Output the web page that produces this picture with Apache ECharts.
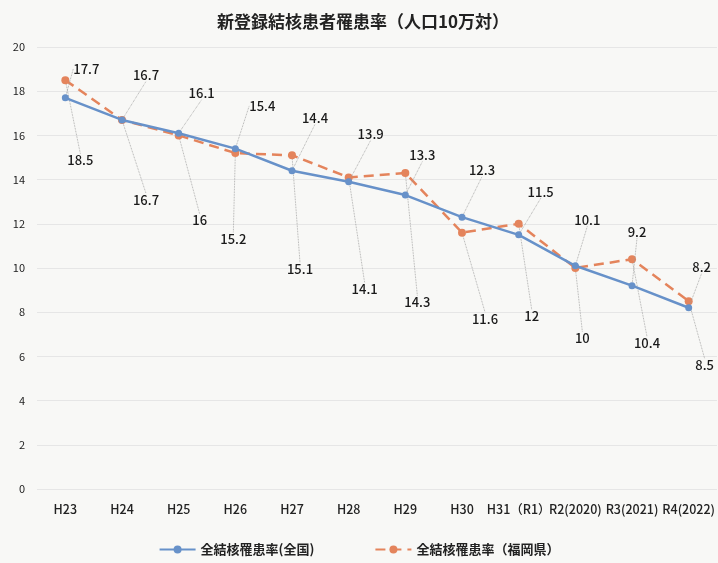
<!DOCTYPE html>
<html lang="ja">
<head>
	<meta charset="UTF-8">
	<title>新登録結核患者罹患率</title>
	<style>
		html, body { margin: 0; padding: 0; background: #f8f8f6; }
	</style>
</head>
<body>
	<div id="main" style="width: 718px;height: 563px"></div>

	<script src="https://cdn.jsdelivr.net/npm/echarts@6/dist/echarts.min.js"></script>
	<script type="text/javascript">
	// データ
	var years = ['H23', 'H24', 'H25', 'H26', 'H27', 'H28', 'H29', 'H30', 'H31（R1）', 'R2(2020)', 'R3(2021)', 'R4(2022)'];
	var zenkoku = [17.7, 16.7, 16.1, 15.4, 14.4, 13.9, 13.3, 12.3, 11.5, 10.1, 9.2, 8.2];   // 全国
	var fukuoka = [18.5, 16.7, 16, 15.2, 15.1, 14.1, 14.3, 11.6, 12, 10, 10.4, 8.5];        // 福岡県
	var yTicks = [0, 2, 4, 6, 8, 10, 12, 14, 16, 18, 20];

	// ラベルの位置ずらし (px)
	var offsetZenkoku = [[21, -29], [24, -45], [23, -40], [27, -43], [23, -53], [22, -48], [17, -40], [20, -47], [22, -43], [12, -46], [5, -54], [13, -41]];
	var offsetFukuoka = [[15, 80], [24, 80], [21, 85], [-2, 86], [8, 114], [16, 112], [12, 129], [23, 86], [13, 92], [7, 70], [15, 84], [16, 64]];

	var myChart = echarts.init(document.getElementById('main'));

	var labelStyle = {
		show: true,
		position: 'inside',
		color: '#1a1a1a',
		fontSize: 13,
		fontWeight: 500,
		fontFamily: 'Noto Sans CJK JP'
	};
	var guide = {
		show: true,
		lineStyle: { color: '#999', width: 0.8, type: 'dotted' }
	};

	var option = {
		backgroundColor: '#f8f8f6',
		animation: false,
		title: {
			text: '新登録結核患者罹患率（人口10万対）',
			left: 358,
			top: 8,
			textAlign: 'center',
			textStyle: { fontSize: 17, fontWeight: 'bold', color: '#222', fontFamily: 'Noto Sans CJK JP' }
		},
		legend: {
			bottom: 2,
			left: 'center',
			itemGap: 60,
			itemWidth: 36,
			itemHeight: 10,
			textStyle: { fontSize: 13, fontWeight: 'bold', color: '#222', fontFamily: 'Noto Sans CJK JP' },
			data: ['全結核罹患率(全国)', '全結核罹患率（福岡県）']
		},
		grid: { left: 37, right: 0, top: 47, bottom: 74 },
		xAxis: {
			type: 'category',
			data: years,
			boundaryGap: true,
			axisLine: { show: false },
			axisTick: { show: false },
			axisLabel: { color: '#222', fontSize: 12.5, fontWeight: 500, margin: 14, fontFamily: 'Noto Sans CJK JP', interval: 0 }
		},
		yAxis: {
			type: 'value',
			min: yTicks[0],
			max: yTicks[yTicks.length - 1],
			interval: 2,
			axisLabel: { color: '#222', fontSize: 11, margin: 12, fontFamily: 'Noto Sans CJK JP' },
			splitLine: { lineStyle: { color: '#e6e6e6', width: 1 } }
		},
		series: [
			{
				name: '全結核罹患率(全国)',
				type: 'line',
				data: zenkoku,
				symbol: 'circle',
				symbolSize: 7,
				z: 3,
				itemStyle: { color: '#6791c9' },
				lineStyle: { color: '#6791c9', width: 2.5 },
				label: labelStyle,
				labelLine: guide,
				labelLayout: function (p) {
					var o = offsetZenkoku[p.dataIndex];
					return { dx: o[0], dy: o[1] };
				}
			},
			{
				name: '全結核罹患率（福岡県）',
				type: 'line',
				data: fukuoka,
				symbol: 'circle',
				symbolSize: 8,
				z: 2,
				itemStyle: { color: '#e4845c' },
				lineStyle: { color: '#e4845c', width: 2.5, type: [10, 6] },
				label: labelStyle,
				labelLine: guide,
				labelLayout: function (p) {
					var o = offsetFukuoka[p.dataIndex];
					return { dx: o[0], dy: o[1] };
				}
			}
		]
	};
	myChart.setOption(option);
	</script>
</body>
</html>
